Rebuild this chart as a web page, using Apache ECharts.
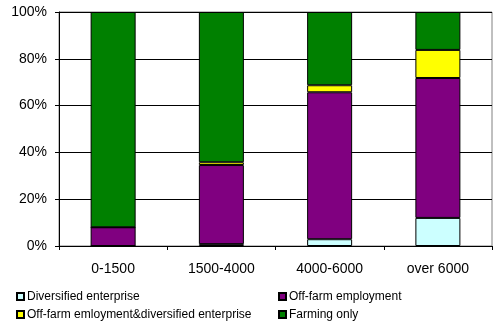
<!DOCTYPE html>
<html><head><meta charset="utf-8">
<script src="https://cdn.jsdelivr.net/npm/echarts@6/dist/echarts.min.js"></script>
<style>html,body{margin:0;padding:0;background:#fff}#c{width:500px;height:326px}</style>
</head><body><div id="c"></div>
<script>
var categories = ['0-1500', '1500-4000', '4000-6000', 'over 6000'];
var diversified = [0, 0.8, 2.9, 12.0];
var offFarm = [8.0, 33.8, 62.8, 59.8];
var offFarmDiversified = [0, 1.2, 3.0, 12.0];
var farmingOnly = [92.0, 64.2, 31.3, 16.2];
var yTicks = [0, 20, 40, 60, 80, 100];

var names = ['Diversified enterprise', 'Off-farm employment', 'Off-farm emloyment&diversified enterprise', 'Farming only'];
var colors = ['#CCFFFF', '#800080', '#FFFF00', '#008000'];
var values = [diversified, offFarm, offFarmDiversified, farmingOnly];

var chart = echarts.init(document.getElementById('c'), null, {renderer: 'canvas'});
var font = 'Liberation Sans, Arial, sans-serif';
var series = names.map(function (n, i) {
  return {
    name: n, type: 'bar', stack: 'total', data: values[i], barWidth: 45,
    itemStyle: {color: colors[i], borderColor: '#000', borderWidth: 1},
    emphasis: {disabled: true}
  };
});
function legendAt(left, data) {
  return {data: data, orient: 'vertical', left: left, top: 290, height: 40, padding: 0,
    itemWidth: 7, itemHeight: 7, itemGap: 5, icon: 'rect',
    textStyle: {fontFamily: font, fontSize: 12, color: '#000', lineHeight: 13, padding: [0, 0, 0, -2]}};
}
chart.setOption({
  animation: false,
  grid: {left: 59, right: 8, top: 12, bottom: 80, show: true, borderColor: '#808080', borderWidth: 1},
  legend: [legendAt(16, [names[0], names[2]]), legendAt(278, [names[1], names[3]])],
  xAxis: {
    type: 'category', data: categories,
    axisLine: {lineStyle: {color: '#000', width: 1}},
    axisTick: {show: true, length: 4, lineStyle: {color: '#000'}},
    axisLabel: {fontFamily: font, fontSize: 14, color: '#000', margin: 16}
  },
  yAxis: {
    type: 'value', min: 0, max: 100, interval: 20,
    axisLine: {show: true, lineStyle: {color: '#000', width: 1}},
    axisTick: {show: true, length: 4, lineStyle: {color: '#000'}},
    axisLabel: {fontFamily: font, fontSize: 14, color: '#000', margin: 12, formatter: function (v) { return yTicks.indexOf(v) >= 0 ? v + '%' : ''; }},
    splitLine: {show: true, lineStyle: {color: '#000', width: 1}}
  },
  series: series
});
</script></body></html>
